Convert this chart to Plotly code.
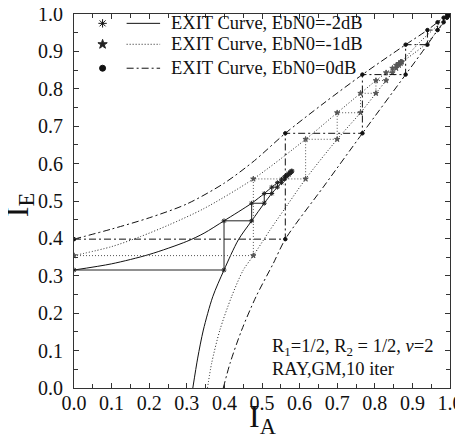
import plotly.graph_objects as go

# ---------------- data ----------------
tick_vals = [0.0, 0.1, 0.2, 0.3, 0.4, 0.5, 0.6, 0.7, 0.8, 0.9, 1.0]
tick_text = ["0.0", "0.1", "0.2", "0.3", "0.4", "0.5", "0.6", "0.7", "0.8", "0.9", "1.0"]

# EbN0 = -2 dB
up_m2_IA = [0.0, 0.10, 0.20, 0.30, 0.346, 0.399, 0.4725, 0.506, 0.526, 0.541, 0.552, 0.566, 0.582]
up_m2_IE = [0.3155, 0.332, 0.357, 0.392, 0.414, 0.447, 0.494, 0.520, 0.537, 0.549, 0.558, 0.570, 0.583]
lo_m2_IA = [0.316, 0.329, 0.344, 0.369, 0.399, 0.437, 0.4725, 0.506, 0.526, 0.541, 0.552, 0.566, 0.582]
lo_m2_IE = [0.0, 0.08, 0.155, 0.244, 0.3155, 0.396, 0.447, 0.494, 0.520, 0.537, 0.549, 0.565, 0.581]
tr_m2_IA = [0.0, 0.399, 0.399, 0.4725, 0.4725, 0.506, 0.506, 0.526, 0.526, 0.541, 0.541, 0.552, 0.552,
            0.560, 0.560, 0.566, 0.566, 0.571, 0.571, 0.575, 0.575, 0.578, 0.578, 0.580]
tr_m2_IE = [0.3155, 0.3155, 0.447, 0.447, 0.494, 0.494, 0.520, 0.520, 0.537, 0.537, 0.549, 0.549, 0.558,
            0.558, 0.565, 0.565, 0.570, 0.570, 0.574, 0.574, 0.577, 0.577, 0.580, 0.580]

# EbN0 = -1 dB
up_m1_IA = [0.0, 0.10, 0.177, 0.25, 0.346, 0.477, 0.616, 0.700, 0.762, 0.803, 0.830, 0.847, 0.857, 0.864, 0.872, 0.92, 0.96, 1.0]
up_m1_IE = [0.354, 0.378, 0.405, 0.435, 0.48, 0.559, 0.665, 0.736, 0.788, 0.822, 0.843, 0.855, 0.863, 0.868, 0.874, 0.925, 0.963, 1.0]
lo_m1_IA = [0.355, 0.366, 0.388, 0.419, 0.450, 0.477, 0.521, 0.570, 0.616, 0.700, 0.762, 0.803, 0.830, 0.847, 0.857, 0.864, 0.872, 0.93, 0.97, 1.0]
lo_m1_IE = [0.0, 0.066, 0.155, 0.244, 0.315, 0.354, 0.422, 0.493, 0.559, 0.665, 0.736, 0.788, 0.822, 0.843, 0.855, 0.863, 0.871, 0.915, 0.958, 1.0]
tr_m1_IA = [0.0, 0.477, 0.477, 0.616, 0.616, 0.700, 0.700, 0.762, 0.762, 0.803, 0.803, 0.830, 0.830,
            0.847, 0.847, 0.857, 0.857, 0.864, 0.864, 0.869, 0.869, 0.872]
tr_m1_IE = [0.354, 0.354, 0.559, 0.559, 0.665, 0.665, 0.736, 0.736, 0.788, 0.788, 0.822, 0.822, 0.843,
            0.843, 0.855, 0.855, 0.863, 0.863, 0.868, 0.868, 0.872, 0.872]

# EbN0 = 0 dB
up_0_IA = [0.0, 0.10, 0.20, 0.30, 0.40, 0.48, 0.562, 0.665, 0.767, 0.882, 0.940, 0.967, 0.983, 1.0]
up_0_IE = [0.398, 0.425, 0.455, 0.492, 0.548, 0.608, 0.681, 0.762, 0.838, 0.918, 0.957, 0.978, 0.990, 1.0]
lo_0_IA = [0.397, 0.415, 0.446, 0.484, 0.530, 0.562, 0.665, 0.767, 0.882, 0.940, 0.967, 0.983, 0.992, 1.0]
lo_0_IE = [0.0, 0.066, 0.155, 0.244, 0.333, 0.398, 0.540, 0.681, 0.838, 0.918, 0.957, 0.978, 0.990, 1.0]
tr_0_IA = [0.0, 0.562, 0.562, 0.767, 0.767, 0.882, 0.882, 0.940, 0.940, 0.967, 0.967, 0.983, 0.983,
           0.992, 0.992, 0.997, 0.997]
tr_0_IE = [0.398, 0.398, 0.681, 0.681, 0.838, 0.838, 0.918, 0.918, 0.957, 0.957, 0.978, 0.978, 0.990,
           0.990, 0.996, 0.996, 1.0]

legend_labels = ["EXIT Curve, EbN0=-2dB", "EXIT Curve, EbN0=-1dB", "EXIT Curve, EbN0=0dB"]
note_lines = ["R<sub>1</sub>=1/2, R<sub>2</sub> = 1/2, <i>ν</i>=2", "RAY,GM,10 iter"]

# ---------------- styles ----------------
FONT = "Liberation Serif"
styles = [
    dict(dash="solid", color="#111111", tcolor="#222222", symbol="asterisk-open", size=4, lsize=7),
    dict(dash="1px,2px", color="#222222", tcolor="#555555", symbol="star", size=4, lsize=7),
    dict(dash="7px,3px,2px,3px", color="#111111", tcolor="#111111", symbol="circle", size=3.5, lsize=6),
]
curves = [
    (up_m2_IA, up_m2_IE, lo_m2_IA, lo_m2_IE, tr_m2_IA, tr_m2_IE),
    (up_m1_IA, up_m1_IE, lo_m1_IA, lo_m1_IE, tr_m1_IA, tr_m1_IE),
    (up_0_IA, up_0_IE, lo_0_IA, lo_0_IE, tr_0_IA, tr_0_IE),
]

fig = go.Figure()
for st, (uxa, uya, lxa, lya, txa, tya) in zip(styles, curves):
    cl = dict(color=st["color"], width=1, dash=st["dash"], shape="spline", smoothing=0.8)
    fig.add_trace(go.Scatter(x=uxa, y=uya, mode="lines", line=cl, showlegend=False, hoverinfo="skip"))
    fig.add_trace(go.Scatter(x=lxa, y=lya, mode="lines", line=cl, showlegend=False, hoverinfo="skip"))
    fig.add_trace(go.Scatter(x=txa, y=tya, mode="lines+markers",
                             line=dict(color=st["tcolor"], width=1, dash=st["dash"]),
                             marker=dict(symbol=st["symbol"], size=st["size"], color=st["tcolor"],
                                         line=dict(color=st["tcolor"], width=1)),
                             showlegend=False, hoverinfo="skip"))

# manual legend (marker, line sample, text) inside the plot
leg_y = [0.975, 0.919, 0.855]
for st, yy, lab in zip(styles, leg_y, legend_labels):
    fig.add_trace(go.Scatter(x=[0.076], y=[yy], mode="markers",
                             marker=dict(symbol=st["symbol"], size=st["lsize"], color=st["color"],
                                         line=dict(color=st["color"], width=1)),
                             showlegend=False, hoverinfo="skip"))
    fig.add_trace(go.Scatter(x=[0.140, 0.229], y=[yy, yy], mode="lines",
                             line=dict(color=st["color"], width=1, dash=st["dash"]),
                             showlegend=False, hoverinfo="skip"))
    fig.add_annotation(x=0.252, y=yy, text=lab, showarrow=False, xanchor="left", yanchor="middle",
                       font=dict(family=FONT, size=18.5, color="#111111"))

for yy, txt in zip([0.108, 0.050], note_lines):
    fig.add_annotation(x=0.521, y=yy, text=txt, showarrow=False, xanchor="left", yanchor="middle",
                       font=dict(family=FONT, size=18.5, color="#111111"))

# axis titles as annotations for exact placement
fig.add_annotation(xref="paper", yref="paper", x=0.5, y=-0.082, text="I<sub>A</sub>", showarrow=False,
                   xanchor="center", yanchor="middle", font=dict(family=FONT, size=32, color="#111111"))
fig.add_annotation(xref="paper", yref="paper", x=-0.145, y=0.49, text="I<sub>E</sub>", showarrow=False,
                   textangle=-90, xanchor="center", yanchor="middle",
                   font=dict(family=FONT, size=32, color="#111111"))

axis_common = dict(
    range=[0, 1], tickvals=tick_vals, ticktext=tick_text,
    ticks="inside", ticklen=5, tickwidth=1, tickcolor="#333",
    minor=dict(ticks="inside", dtick=0.05, tick0=0, ticklen=4, tickcolor="#333"),
    showline=True, linecolor="#333", linewidth=1, mirror="ticks",
    showgrid=False, zeroline=False, automargin=False, ticklabeloverflow="allow",
    tickfont=dict(family=FONT, size=20, color="#111111"),
)
fig.update_xaxes(**axis_common, ticklabelstandoff=-3)
fig.update_yaxes(**axis_common, ticklabelstandoff=6)

# the page body adds an 8px offset, so margins are shifted to keep the plot area at x 74-450, y 14-388
fig.update_layout(
    width=463, height=443, autosize=False,
    margin=dict(l=66, r=21, t=6, b=63, autoexpand=False),
    paper_bgcolor="white", plot_bgcolor="white",
    showlegend=False,
)
fig.write_html("out.html")
